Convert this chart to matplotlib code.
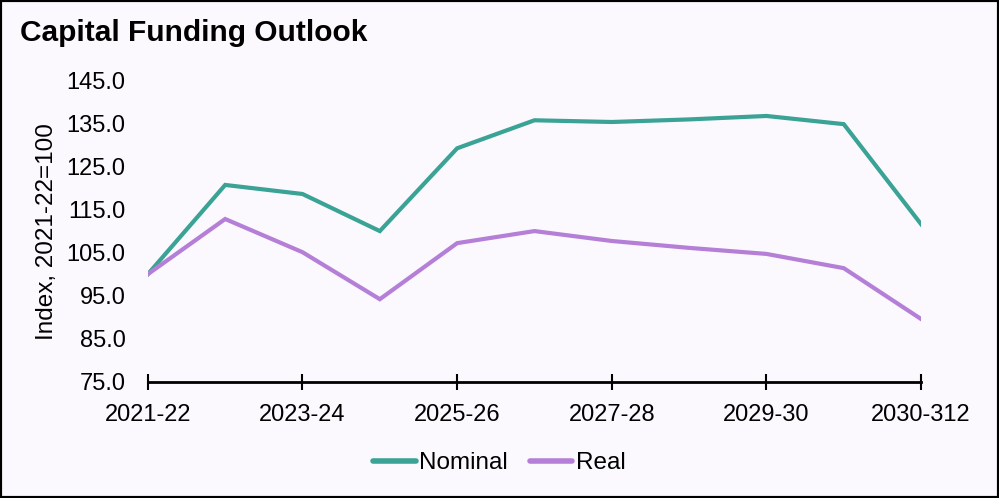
import matplotlib.pyplot as plt
from matplotlib.patches import Rectangle

plt.rcParams['font.family'] = ['Liberation Sans', 'DejaVu Sans']

years = ['2021-22', '2022-23', '2023-24', '2024-25', '2025-26', '2026-27',
         '2027-28', '2028-29', '2029-30', '2030-31', '2030-312']
nominal = [100.0, 120.7, 118.6, 110.0, 129.2, 135.7, 135.3, 135.9, 136.7, 134.8, 111.6]
real = [100.0, 112.8, 105.1, 94.2, 107.2, 110.0, 107.7, 106.1, 104.7, 101.4, 89.6]
yticks = [75, 85, 95, 105, 115, 125, 135, 145]

bg = '#fbf9fe'
fig = plt.figure(figsize=(9.99, 4.98), dpi=100, facecolor=bg)
ax = fig.add_axes([0.148, 0.233, 0.774, 0.606], facecolor=bg)

x = list(range(len(years)))
ax.plot(x, nominal, color='#3aa396', lw=3, label='Nominal', solid_joinstyle='miter')
ax.plot(x, real, color='#b57fd8', lw=3, label='Real', solid_joinstyle='miter')

ax.set_xlim(0, len(years) - 1)
ax.set_ylim(75, 145)
ax.set_yticks(yticks)
ax.set_yticklabels([f'{v:.1f}' for v in yticks], fontsize=17)
ax.set_xticks(x[::2])
ax.set_xticklabels(years[::2], fontsize=17)
ax.tick_params(axis='y', length=0, pad=16)
ax.tick_params(axis='x', direction='inout', length=12, width=1.5, pad=10)
for s in ['top', 'right', 'left']:
    ax.spines[s].set_visible(False)
ax.spines['bottom'].set_linewidth(2)
ax.set_ylabel('Index, 2021-22=100', fontsize=17.5, labelpad=6)

fig.text(0.02, 0.934, 'Capital Funding Outlook', fontsize=21.5, fontweight='bold',
         va='center', ha='left')

leg = fig.legend(loc='center', bbox_to_anchor=(0.5, 0.07), ncol=2, frameon=False,
                 fontsize=17.5, handlelength=1.75, handletextpad=0.15, columnspacing=0.9)
for h in leg.get_lines():
    h.set_linewidth(4)
    h.set_solid_capstyle('round')

fig.patches.append(Rectangle((0, 0), 1, 1, transform=fig.transFigure, fill=False,
                             edgecolor='black', lw=3))

fig.savefig('out.png', dpi=100, facecolor=bg)
